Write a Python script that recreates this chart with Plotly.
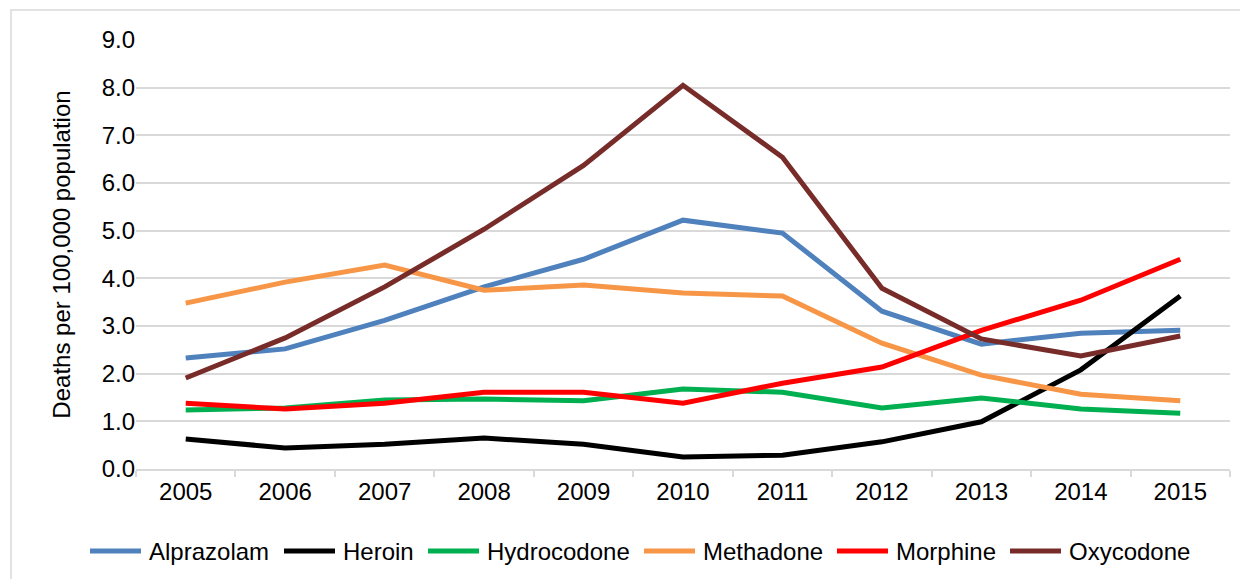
import plotly.graph_objects as go

years = ["2005", "2006", "2007", "2008", "2009", "2010", "2011", "2012", "2013", "2014", "2015"]
alprazolam = [2.33, 2.52, 3.12, 3.82, 4.40, 5.22, 4.95, 3.31, 2.62, 2.85, 2.91]
heroin = [0.63, 0.44, 0.52, 0.65, 0.52, 0.25, 0.29, 0.57, 0.99, 2.08, 3.63]
hydrocodone = [1.24, 1.28, 1.45, 1.47, 1.43, 1.68, 1.61, 1.28, 1.49, 1.26, 1.17]
methadone = [3.48, 3.92, 4.28, 3.75, 3.86, 3.69, 3.63, 2.64, 1.97, 1.57, 1.43]
morphine = [1.38, 1.26, 1.38, 1.61, 1.61, 1.38, 1.80, 2.14, 2.91, 3.54, 4.40]
oxycodone = [1.91, 2.75, 3.82, 5.03, 6.37, 8.05, 6.54, 3.79, 2.73, 2.37, 2.79]

series_names = ["Alprazolam", "Heroin", "Hydrocodone", "Methadone", "Morphine", "Oxycodone"]
series_values = [alprazolam, heroin, hydrocodone, methadone, morphine, oxycodone]
series_colors = ["#4F81BD", "#000000", "#00B050", "#F79646", "#FF0000", "#772C2A"]
y_ticks = [0, 1, 2, 3, 4, 5, 6, 7, 8, 9]

# layout (page pixel positions of legend entries' line start)
legend_x = [88, 282, 426, 642, 835, 1008]
legend_y = 551
OFF = 8  # page body margin

fig = go.Figure()
for name, vals, color in zip(series_names, series_values, series_colors):
    fig.add_trace(go.Scatter(x=years, y=vals, name=name, mode="lines",
                             line=dict(color=color, width=5), showlegend=False))

W, H = 1240, 571
ml, mr, mt, mb = 128, 18, 32, 110
pw, ph = W - ml - mr, H - mt - mb

def px_x(x):
    return (x - OFF - ml) / pw

def px_y(y):
    return (H - mb - (y - OFF)) / ph

shapes = [dict(type="rect", xref="paper", yref="paper",
               x0=px_x(11), x1=px_x(1258), y0=px_y(598), y1=px_y(10),
               line=dict(color="#D9D9D9", width=1.5), fillcolor="rgba(0,0,0,0)", layer="below")]
annotations = []
for name, color, lx in zip(series_names, series_colors, legend_x):
    shapes.append(dict(type="line", xref="paper", yref="paper",
                       x0=px_x(lx + 2), x1=px_x(lx + 53), y0=px_y(legend_y), y1=px_y(legend_y),
                       line=dict(color=color, width=5)))
    annotations.append(dict(text=name, xref="paper", yref="paper", x=px_x(lx + 59), y=px_y(legend_y),
                            xanchor="left", yanchor="middle", showarrow=False,
                            font=dict(size=24, color="#000000")))

fig.update_layout(
    width=W, height=H,
    margin=dict(l=ml, r=mr, t=mt, b=mb),
    paper_bgcolor="white", plot_bgcolor="white",
    font=dict(family="Liberation Sans, Arial, sans-serif", size=24, color="#000000"),
    showlegend=False,
    xaxis=dict(type="category", showgrid=False, showline=True, linecolor="#D9D9D9", linewidth=1.5,
               ticks="outside", tickson="boundaries", ticklen=6, tickcolor="#D9D9D9", tickwidth=1.5,
               tickfont=dict(size=24), range=[-0.5, 10.5]),
    yaxis=dict(range=[0, 9], tickvals=y_ticks, tickformat=".1f", showgrid=True,
               gridcolor="#D9D9D9", gridwidth=1.5, zeroline=False, showline=False,
               ticks="", tickfont=dict(size=24),
               title=dict(text="Deaths per 100,000 population", font=dict(size=24), standoff=24)),
    shapes=shapes,
    annotations=annotations,
)

fig.write_html("out.html")
